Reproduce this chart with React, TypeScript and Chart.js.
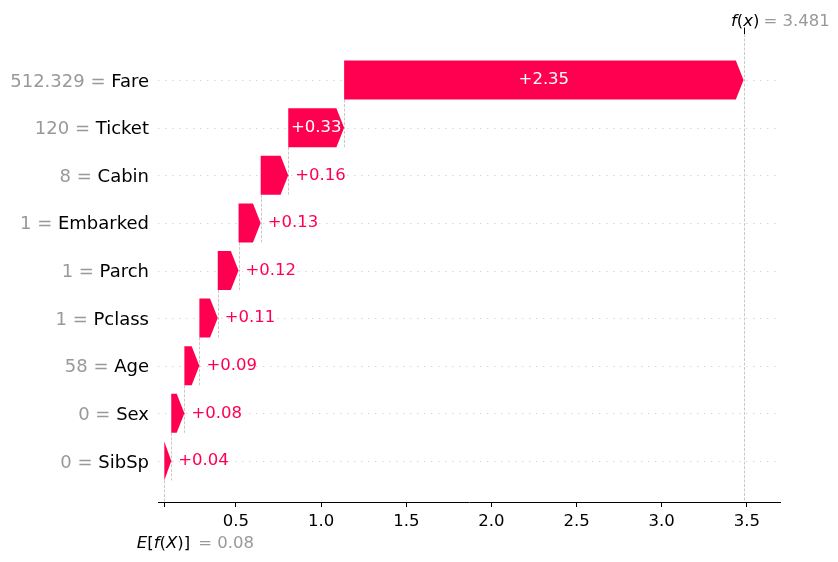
import React, { useEffect, useRef } from 'react';
import { Chart, registerables } from 'chart.js';

Chart.register(...registerables);

// ---- data ----
const features = ['Fare', 'Ticket', 'Cabin', 'Embarked', 'Parch', 'Pclass', 'Age', 'Sex', 'SibSp'];
const featureValues = ['512.329', '120', '8', '1', '1', '1', '58', '0', '0'];
const shapValues = [2.346, 0.328, 0.162, 0.13, 0.122, 0.108, 0.088, 0.077, 0.041];
const baseValue = 0.079;
const xTickValues = [0.5, 1.0, 1.5, 2.0, 2.5, 3.0, 3.5];

const PINK = '#ff0051';
const GRAY = '#999999';
const FONT = "'DejaVu Sans', sans-serif";
const HEAD = 7.7;

const n = features.length;
const starts: number[] = new Array(n);
let acc = baseValue;
for (let i = n - 1; i >= 0; i--) {
  starts[i] = acc;
  acc += shapValues[i];
}
const fx = acc;
const barData = features.map((_, i) => ({ y: i, x: [starts[i], starts[i] + shapValues[i]] }));

function line(ctx: CanvasRenderingContext2D, x0: number, y0: number, x1: number, y1: number) {
  ctx.beginPath();
  ctx.moveTo(x0, y0);
  ctx.lineTo(x1, y1);
  ctx.stroke();
}

type Part = { t: string; it: boolean; c: string };
function drawParts(ctx: CanvasRenderingContext2D, parts: Part[], x: number, y: number, size: number) {
  let cx = x;
  ctx.textAlign = 'left';
  ctx.textBaseline = 'alphabetic';
  for (const p of parts) {
    ctx.font = `${p.it ? 'italic ' : ''}${size}px ${FONT}`;
    ctx.fillStyle = p.c;
    ctx.fillText(p.t, cx, y);
    cx += ctx.measureText(p.t).width;
  }
}

const waterfallPlugin = {
  id: 'waterfall',
  beforeDatasetsDraw(chart: any) {
    const { ctx, chartArea: a, scales } = chart;
    const x = scales.x, y = scales.y;
    const meta = chart.getDatasetMeta(0);
    ctx.save();
    ctx.lineWidth = 0.8;
    ctx.strokeStyle = '#cccccc';
    ctx.setLineDash([1.4, 5.6]);
    features.forEach((_, i) => {
      const py = Math.round(y.getPixelForValue(i)) + 0.5;
      line(ctx, a.left, py, a.right, py);
    });
    ctx.strokeStyle = '#bbbbbb';
    ctx.lineWidth = 0.8;
    ctx.setLineDash([3, 1.5]);
    meta.data.forEach((el: any, i: number) => {
      const p = el.getProps(['base', 'y', 'height'], true);
      const y0 = p.y + p.height / 2;
      let y1 = a.bottom;
      if (i < n - 1) {
        const q = meta.data[i + 1].getProps(['y', 'height'], true);
        y1 = q.y + q.height / 2;
      }
      const px = Math.round(p.base) + 0.5;
      line(ctx, px, y0, px, y1);
    });
    const fpx = Math.round(x.getPixelForValue(fx)) + 0.5;
    line(ctx, fpx, a.top, fpx, a.bottom);
    ctx.restore();
  },
  afterDatasetsDraw(chart: any) {
    const { ctx } = chart;
    const y = chart.scales.y;
    const meta = chart.getDatasetMeta(0);
    ctx.save();
    meta.data.forEach((el: any, i: number) => {
      const { x: ex, base, y: cy, height: h } = el.getProps(['x', 'base', 'y', 'height'], true);
      const dir = ex >= base ? 1 : -1;
      const w = Math.abs(ex - base);
      const head = Math.min(HEAD, w);
      const neck = ex - dir * head;
      ctx.fillStyle = PINK;
      ctx.beginPath();
      ctx.moveTo(base, cy - h / 2);
      ctx.lineTo(neck, cy - h / 2);
      ctx.lineTo(ex, cy);
      ctx.lineTo(neck, cy + h / 2);
      ctx.lineTo(base, cy + h / 2);
      ctx.closePath();
      ctx.fill();

      const v = shapValues[i];
      const txt = (v >= 0 ? '+' : '') + v.toFixed(2);
      ctx.font = `16.5px ${FONT}`;
      ctx.textBaseline = 'alphabetic';
      const tw = ctx.measureText(txt).width;
      if (tw + 4 < w) {
        ctx.fillStyle = '#ffffff';
        ctx.textAlign = 'center';
        ctx.fillText(txt, (base + ex) / 2, cy + 4.3);
      } else {
        ctx.fillStyle = PINK;
        ctx.textAlign = 'left';
        ctx.fillText(txt, ex + 7, cy + 4.3);
      }
    });

    // y labels
    features.forEach((name, i) => {
      const py = y.getPixelForValue(i) + 6.6;
      ctx.font = `18px ${FONT}`;
      ctx.textBaseline = 'alphabetic';
      ctx.textAlign = 'right';
      ctx.fillStyle = '#000000';
      ctx.fillText(name, 149, py);
      const nw = ctx.measureText(name).width;
      ctx.fillStyle = GRAY;
      ctx.fillText(featureValues[i] + ' = ', 149 - nw, py);
    });
    ctx.restore();
  },
  afterDraw(chart: any) {
    const { ctx, chartArea: a } = chart;
    const x = chart.scales.x;
    ctx.save();
    const fpx = Math.round(x.getPixelForValue(fx)) + 0.5;
    ctx.strokeStyle = '#000';
    ctx.lineWidth = 1;
    line(ctx, fpx, a.top - 6.5, fpx, a.top);
    drawParts(ctx, [
      { t: 'f', it: true, c: '#000' },
      { t: '(', it: false, c: '#000' },
      { t: 'x', it: true, c: '#000' },
      { t: ')', it: false, c: '#000' },
    ], fpx - 13.5, 26, 16.5);
    drawParts(ctx, [{ t: '= ' + fx.toFixed(3), it: false, c: GRAY }], fpx + 19, 26, 16.5);

    const bpx = x.getPixelForValue(baseValue);
    drawParts(ctx, [
      { t: 'E', it: true, c: '#000' },
      { t: '[', it: false, c: '#000' },
      { t: 'f', it: true, c: '#000' },
      { t: '(', it: false, c: '#000' },
      { t: 'X', it: true, c: '#000' },
      { t: ')', it: false, c: '#000' },
      { t: ']', it: false, c: '#000' },
    ], bpx - 27.5, 547.5, 16.5);
    drawParts(ctx, [{ t: '= ' + baseValue.toFixed(2), it: false, c: GRAY }], bpx + 34, 547.5, 16.5);
    ctx.restore();
  },
};

export default function App() {
  const ref = useRef<HTMLCanvasElement>(null);
  useEffect(() => {
    const chart = new Chart(ref.current as HTMLCanvasElement, {
      type: 'bar',
      data: {
        datasets: [
          {
            data: barData as any,
            backgroundColor: 'rgba(0,0,0,0)',
            borderWidth: 0,
            barThickness: 39,
          } as any,
        ],
      },
      options: {
        indexAxis: 'y',
        animation: false,
        responsive: false,
        events: [],
        layout: { padding: { top: 34, left: 158, right: 58, bottom: 0 } },
        plugins: { legend: { display: false }, tooltip: { enabled: false } },
        scales: {
          x: {
            type: 'linear',
            min: 0.042,
            max: 3.695,
            offset: false,
            afterBuildTicks: (s: any) => {
              s.ticks = [baseValue, ...xTickValues].map((v) => ({ value: v }));
            },
            afterFit: (s: any) => {
              s.height = 60;
            },
            grid: { offset: false, drawOnChartArea: false, drawTicks: true, tickLength: 5, color: '#000', lineWidth: 1 },
            border: { display: true, color: '#000', width: 1 },
            ticks: {
              autoSkip: false,
              maxRotation: 0,
              padding: 5,
              color: '#000',
              font: { family: 'DejaVu Sans', size: 16.5 },
              callback: (v: any) => (v === baseValue ? '' : Number(v).toFixed(1)),
            },
          },
          y: {
            type: 'linear',
            reverse: true,
            offset: false,
            grid: { offset: false },
            min: -0.966,
            max: 8.861,
            display: false,
          },
        },
      },
      plugins: [waterfallPlugin],
    } as any);
    return () => chart.destroy();
  }, []);
  return (
    <div style={{ position: 'absolute', left: 0, top: 0, width: 838, height: 562 }}>
      <canvas ref={ref} width={838} height={562} style={{ width: 838, height: 562 }} />
    </div>
  );
}
